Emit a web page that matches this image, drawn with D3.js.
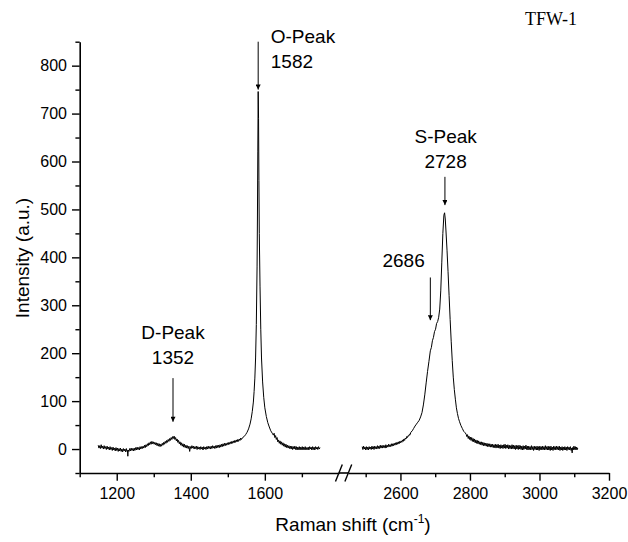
<!DOCTYPE html>
<html>
<head>
<meta charset="utf-8">
<script src="https://cdn.jsdelivr.net/npm/d3@7"></script>
<style>
  html, body { margin: 0; padding: 0; background: #fff; }
  svg { display: block; }
</style>
</head>
<body>
<script>
// ---------------- DATA ----------------
const chartTitle = "TFW-1";
const xTitle = "Raman shift (cm";
const xTitleSup = "-1";
const yTitle = "Intensity (a.u.)";

const leftDomain = [1100, 1800];
const rightDomain = [2450, 3200];
const yDomain = [-50, 850];

const leftMajorTicks = [1200, 1400, 1600];
const leftMinorTicks = [1100, 1300, 1500, 1700];
const rightMajorTicks = [2600, 2800, 3000, 3200];
const rightMinorTicks = [2500, 2700, 2900, 3100];
const yMajorTicks = [0, 100, 200, 300, 400, 500, 600, 700, 800];
const yMinorTicks = [-50, 50, 150, 250, 350, 450, 550, 650, 750, 850];

// Spectrum, low-shift segment: [Raman shift, intensity]
const leftSpectrum = [
[1150,8],[1152,2],[1154,7],[1156,1],[1158,9],[1160,2],[1162,6],[1164,0],[1166,7],[1168,1],
[1170,5],[1172,-1],[1174,6],[1176,0],[1178,4],[1180,-2],[1182,5],[1184,-1],[1186,3],[1188,-3],
[1190,4],[1192,-2],[1194,2],[1196,-4],[1198,3],[1200,-3],[1202,2],[1204,-5],[1206,1],[1208,-4],
[1210,2],[1212,-5],[1214,0],[1216,-6],[1218,1],[1220,-4],[1222,0],[1224,-6],[1226,1],[1228,-5],
[1229,-3],[1230,-15],[1231,-2],[1233,-5],[1235,1],[1237,-4],[1239,2],[1241,-3],[1243,1],[1245,-4],
[1247,2],[1249,-3],[1251,3],[1253,-2],[1255,4],[1257,-1],[1259,3],[1261,-2],[1263,5],[1265,0],
[1267,5],[1269,1],[1271,6],[1273,2],[1275,8],[1277,3],[1279,9],[1281,5],[1283,11],[1285,7],
[1287,13],[1289,9],[1291,15],[1293,10],[1295,16],[1297,11],[1299,15],[1301,10],[1303,14],[1305,9],
[1307,13],[1309,7],[1311,12],[1313,6],[1315,11],[1317,5],[1319,10],[1321,6],[1323,12],[1325,8],
[1327,14],[1329,10],[1331,16],[1333,12],[1335,18],[1337,14],[1339,20],[1341,16],[1343,22],[1345,18],
[1347,24],[1349,20],[1351,26],[1353,22],[1355,27],[1357,20],[1359,24],[1361,17],[1363,21],[1365,14],
[1367,18],[1369,11],[1371,15],[1373,8],[1375,13],[1377,6],[1379,11],[1381,4],[1383,10],[1385,3],
[1387,8],[1389,2],[1391,7],[1393,1],[1395,6],[1397,-5],[1399,5],[1401,1],[1403,7],[1405,2],
[1407,6],[1409,0],[1411,5],[1413,1],[1415,6],[1417,-1],[1419,5],[1421,0],[1423,4],[1425,-1],
[1427,5],[1429,0],[1431,4],[1433,-2],[1435,5],[1437,0],[1439,4],[1441,-1],[1443,5],[1445,0],
[1447,6],[1449,1],[1451,5],[1453,0],[1455,6],[1457,1],[1459,7],[1461,2],[1463,6],[1465,1],
[1467,7],[1469,2],[1471,8],[1473,3],[1475,8],[1477,3],[1479,9],[1481,4],[1483,10],[1485,5],
[1487,11],[1489,6],[1491,12],[1493,7],[1495,12],[1497,8],[1499,13],[1501,9],[1503,14],[1505,10],
[1507,15],[1509,11],[1511,16],[1513,12],[1515,17],[1517,13],[1519,18],[1521,14],[1523,19],[1525,15],
[1527,20],[1529,16],[1531,21],[1533,18],[1535,23],[1537,20],[1540,24],[1544,26],[1548,30],[1552,35],
[1556,42],[1560,52],[1563,63],[1566,78],[1569,98],[1571,120],[1573,148],[1575,190],[1577,260],[1579,380],
[1580,480],[1581,620],[1582,746],[1583,690],[1584,560],[1585,450],[1587,340],[1589,250],[1591,190],[1594,140],
[1597,108],[1600,86],[1604,68],[1608,55],[1612,46],[1616,38],[1620,33],[1623,29],[1625,33],[1627,24],
[1629,28],[1631,20],[1633,24],[1635,15],[1637,19],[1639,12],[1641,17],[1643,10],[1645,15],[1647,8],
[1649,13],[1651,6],[1653,11],[1655,4],[1657,10],[1659,3],[1661,8],[1663,2],[1665,7],[1667,1],
[1669,6],[1671,0],[1673,6],[1675,-1],[1677,5],[1679,0],[1681,6],[1683,-1],[1685,5],[1687,-2],
[1689,4],[1691,-1],[1693,5],[1695,-2],[1697,4],[1699,-1],[1701,5],[1703,-2],[1705,4],[1707,-1],
[1709,5],[1711,-2],[1713,3],[1715,-1],[1717,4],[1719,-2],[1721,5],[1723,0],[1725,4],[1727,-2],
[1729,5],[1731,-1],[1733,4],[1735,-2],[1737,5],[1739,0],[1741,4],[1743,-1],[1745,5],[1747,0],
[1749,3]
];

// Spectrum, high-shift segment: [Raman shift, intensity]
const rightSpectrum = [
[2490,5],[2492,-1],[2494,6],[2496,0],[2498,4],[2500,-2],[2502,5],[2504,-1],[2506,4],[2508,-2],
[2510,5],[2512,0],[2514,4],[2516,-1],[2518,6],[2520,0],[2522,5],[2524,-1],[2526,6],[2528,1],
[2530,5],[2532,0],[2534,7],[2536,1],[2538,6],[2540,1],[2542,8],[2544,2],[2546,7],[2548,2],
[2550,8],[2552,3],[2554,7],[2556,2],[2558,9],[2560,3],[2562,8],[2564,4],[2566,10],[2568,5],
[2570,9],[2572,5],[2574,11],[2576,6],[2578,11],[2580,7],[2582,12],[2584,8],[2586,13],[2588,9],
[2590,14],[2592,10],[2594,15],[2596,11],[2598,16],[2600,13],[2602,17],[2604,14],[2606,19],[2608,16],
[2610,21],[2612,18],[2614,23],[2616,21],[2618,26],[2620,24],[2622,28],[2624,27],[2626,31],[2628,30],
[2630,35],[2634,38],[2638,43],[2642,48],[2646,52],[2650,56],[2654,60],[2658,67],[2662,76],[2666,92],
[2670,113],[2674,138],[2678,162],[2682,183],[2686,205],[2689,212],[2692,226],[2695,233],[2698,245],[2701,250],
[2704,262],[2707,266],[2710,275],[2713,292],[2716,330],[2719,390],[2722,450],[2725,488],[2727,493],[2729,480],
[2731,455],[2734,415],[2737,370],[2740,320],[2743,270],[2746,225],[2749,185],[2752,150],[2755,124],[2758,104],
[2761,86],[2764,74],[2767,64],[2770,57],[2774,49],[2778,43],[2782,37],[2786,34],[2789,31],[2791,26],
[2793,30],[2795,22],[2797,27],[2799,20],[2801,25],[2803,18],[2805,24],[2807,16],[2809,22],[2811,15],
[2813,21],[2815,13],[2817,19],[2819,12],[2821,18],[2823,11],[2825,17],[2827,10],[2829,15],[2831,9],
[2833,15],[2835,8],[2837,14],[2839,7],[2841,13],[2843,7],[2845,12],[2847,6],[2849,12],[2851,5],
[2853,11],[2855,5],[2857,11],[2859,4],[2861,10],[2863,4],[2865,10],[2867,3],[2869,9],[2871,3],
[2873,10],[2875,2],[2877,9],[2879,3],[2881,10],[2883,2],[2885,8],[2887,1],[2889,9],[2891,2],
[2893,8],[2895,1],[2897,9],[2899,2],[2901,10],[2903,1],[2905,8],[2907,2],[2909,9],[2911,0],
[2913,8],[2915,1],[2917,7],[2919,0],[2921,9],[2923,1],[2925,8],[2927,0],[2929,7],[2931,-1],
[2933,8],[2935,0],[2937,7],[2939,-1],[2941,8],[2943,0],[2945,7],[2947,-1],[2949,6],[2951,-2],
[2953,7],[2955,-1],[2957,6],[2959,0],[2961,8],[2963,-1],[2965,6],[2967,-2],[2969,6],[2971,-1],
[2973,5],[2975,-2],[2977,7],[2979,-1],[2981,5],[2983,-3],[2985,6],[2987,-1],[2989,5],[2991,-2],
[2993,6],[2995,-2],[2997,5],[2999,-3],[3001,6],[3003,-1],[3005,5],[3007,-2],[3009,6],[3011,-1],
[3013,5],[3015,-2],[3017,7],[3019,-1],[3021,5],[3023,-2],[3025,6],[3027,-2],[3029,5],[3031,-3],
[3033,6],[3035,-2],[3037,4],[3039,-3],[3041,6],[3043,-1],[3045,5],[3047,-2],[3049,6],[3051,-1],
[3053,5],[3055,-2],[3057,6],[3059,-3],[3061,4],[3063,-2],[3065,5],[3067,-3],[3069,4],[3071,-2],
[3073,5],[3075,-2],[3077,4],[3079,-3],[3081,5],[3083,-1],[3085,4],[3087,-2],[3089,5],[3091,-3],
[3093,2],[3094,-8],[3095,3],[3097,-2],[3099,6],[3101,-1],[3103,5],[3105,-2],[3107,4],[3109,-1],
[3110,2]
];

// Peak annotations: arrow at shift, from tail intensity down to tip intensity
const arrowShifts    = [1352, 1582, 2686, 2728];
const arrowTips      = [57, 750, 269, 509];
const arrowTails     = [148, 850, 358, 568];
// Label text lines and anchor positions (shift, intensity of baseline)
const labelLine1     = ["D-Peak", "O-Peak", "", "S-Peak"];
const labelLine2     = ["1352", "1582", "2686", "2728"];
const labelShift     = [1352, 1616, 2670, 2730];
const labelLine1Y    = [230, 848, 0, 639];
const labelLine2Y    = [178, 795, 380, 587];
const labelAnchor    = ["middle", "start", "end", "middle"];

// ---------------- CHART ----------------
const W = 628, H = 542;
const SANS = "'Liberation Sans', Arial, sans-serif";
const SERIF = "'Liberation Serif', 'Times New Roman', serif";
const svg = d3.select("body").append("svg").attr("width", W).attr("height", H)
  .style("font-family", SANS);

const xL = d3.scaleLinear().domain(leftDomain).range([79.7, 338.9]);
const xR = d3.scaleLinear().domain(rightDomain).range([348.3, 609]);
const y = d3.scaleLinear().domain(yDomain).range([473, 41.7]);
const axisY = y(yDomain[0]);
const fmt = d3.format("d");

const lineL = d3.line().x(d => xL(d[0])).y(d => y(d[1]));
const lineR = d3.line().x(d => xR(d[0])).y(d => y(d[1]));

svg.append("path").datum(leftSpectrum).attr("d", lineL)
  .attr("fill", "none").attr("stroke", "#000").attr("stroke-width", 1);
svg.append("path").datum(rightSpectrum).attr("d", lineR)
  .attr("fill", "none").attr("stroke", "#000").attr("stroke-width", 1);

function styleAxis(g) {
  g.selectAll("path.domain").attr("stroke", "#000").attr("stroke-width", 1.6);
  g.selectAll(".tick line").attr("stroke", "#000").attr("stroke-width", 1.4);
  g.selectAll(".tick text").style("font-family", SANS)
    .attr("font-size", 16).attr("fill", "#000");
}

// X axes
const gxL = svg.append("g").attr("transform", `translate(0,${axisY})`)
  .call(d3.axisBottom(xL).tickValues(leftMajorTicks).tickFormat(fmt).tickSize(7.7).tickPadding(6.5).tickSizeOuter(0));
styleAxis(gxL);
const gxLm = svg.append("g").attr("transform", `translate(0,${axisY})`)
  .call(d3.axisBottom(xL).tickValues(leftMinorTicks).tickSize(4.3).tickFormat("").tickSizeOuter(0));
styleAxis(gxLm); gxLm.select("path.domain").remove();

const gxR = svg.append("g").attr("transform", `translate(0,${axisY})`)
  .call(d3.axisBottom(xR).tickValues(rightMajorTicks).tickFormat(fmt).tickSize(7.7).tickPadding(6.5).tickSizeOuter(0));
styleAxis(gxR);
const gxRm = svg.append("g").attr("transform", `translate(0,${axisY})`)
  .call(d3.axisBottom(xR).tickValues(rightMinorTicks).tickSize(4.3).tickFormat("").tickSizeOuter(0));
styleAxis(gxRm); gxRm.select("path.domain").remove();

// join the axis across the break
svg.append("line")
  .attr("x1", xL.range()[1]).attr("x2", xR.range()[0])
  .attr("y1", axisY).attr("y2", axisY)
  .attr("stroke", "#000").attr("stroke-width", 1.6);

// break marks "//"
const breakMid = (xL.range()[1] + xR.range()[0]) / 2;
[-4.7, 4.7].forEach(off => {
  svg.append("line")
    .attr("x1", breakMid + off - 3.4).attr("y1", axisY + 8.5)
    .attr("x2", breakMid + off + 3.4).attr("y2", axisY - 8.5)
    .attr("stroke", "#000").attr("stroke-width", 1.4);
});

// Y axis
const gy = svg.append("g").attr("transform", `translate(${xL.range()[0]},0)`)
  .call(d3.axisLeft(y).tickValues(yMajorTicks).tickFormat(fmt).tickSize(7.7).tickPadding(5).tickSizeOuter(0));
styleAxis(gy);
const gym = svg.append("g").attr("transform", `translate(${xL.range()[0]},0)`)
  .call(d3.axisLeft(y).tickValues(yMinorTicks).tickSize(4.3).tickFormat("").tickSizeOuter(0));
styleAxis(gym); gym.select("path.domain").remove();

// Axis titles
const xt = svg.append("text")
  .attr("x", 353).attr("y", 531)
  .attr("text-anchor", "middle")
  .attr("font-size", 19);
xt.append("tspan").text(xTitle);
xt.append("tspan").attr("font-size", 12).attr("dy", -8).text(xTitleSup);
xt.append("tspan").attr("dy", 8).text(")");

svg.append("text")
  .attr("transform", "translate(29,258) rotate(-90)")
  .attr("text-anchor", "middle")
  .attr("font-size", 19)
  .text(yTitle);

// Title
svg.append("text")
  .attr("x", 525).attr("y", 25)
  .style("font-family", SERIF)
  .attr("font-size", 18)
  .text(chartTitle);

// Arrows
const defs = svg.append("defs");
defs.append("marker").attr("id", "ah")
  .attr("viewBox", "0 0 10 10").attr("refX", 10).attr("refY", 5)
  .attr("markerWidth", 8).attr("markerHeight", 5).attr("markerUnits", "userSpaceOnUse")
  .attr("orient", "auto")
  .append("path").attr("d", "M0,0 L10,5 L0,10 Z").attr("fill", "#000");

function sx(v) { return v < 2000 ? xL(v) : xR(v); }

arrowShifts.forEach((s, i) => {
  svg.append("line")
    .attr("x1", sx(s)).attr("x2", sx(s))
    .attr("y1", y(arrowTails[i])).attr("y2", y(arrowTips[i]))
    .attr("stroke", "#000").attr("stroke-width", 1)
    .attr("marker-end", "url(#ah)");
});

labelLine2.forEach((t, i) => {
  if (labelLine1[i]) {
    svg.append("text")
      .attr("x", sx(labelShift[i])).attr("y", y(labelLine1Y[i]))
      .attr("text-anchor", labelAnchor[i]).attr("font-size", 19)
      .text(labelLine1[i]);
  }
  svg.append("text")
    .attr("x", sx(labelShift[i])).attr("y", y(labelLine2Y[i]))
    .attr("text-anchor", labelAnchor[i]).attr("font-size", 19)
    .text(t);
});
</script>
</body>
</html>
